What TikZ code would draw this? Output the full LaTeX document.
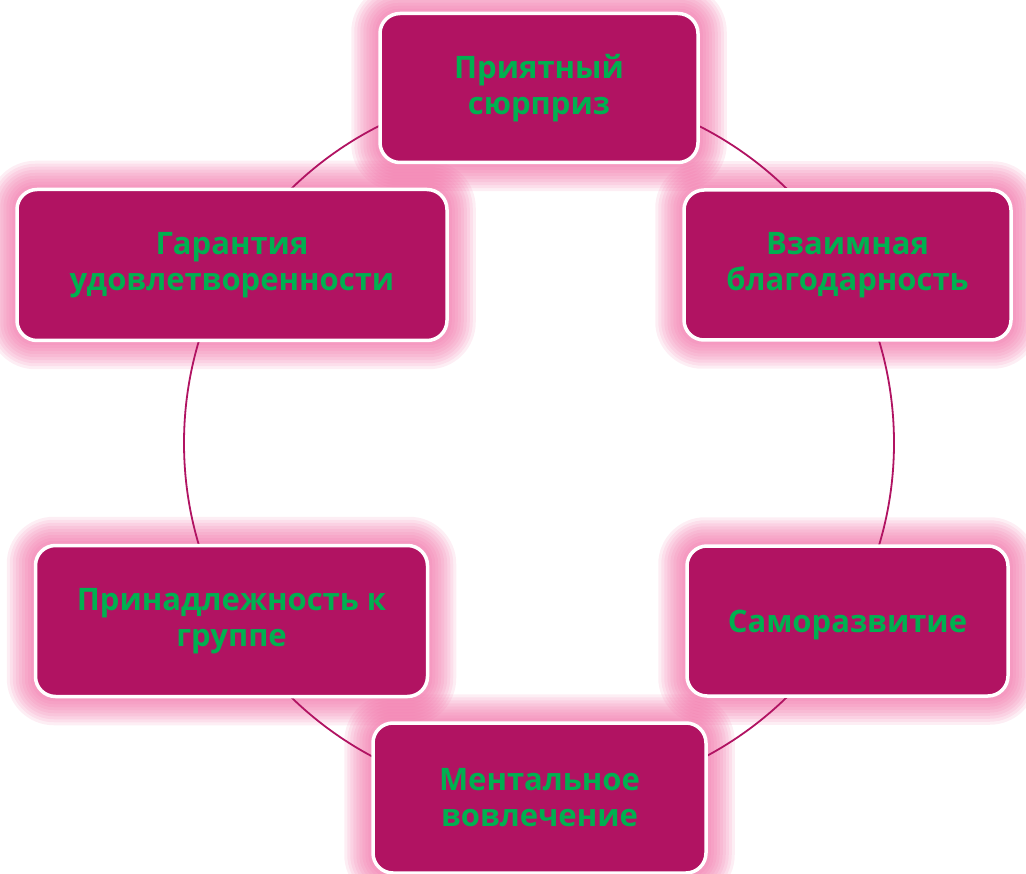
\documentclass[tikz,border=0pt]{standalone}
\usepackage{fontspec}
\setmainfont{Open Sans}
\definecolor{boxfill}{HTML}{B11362}
\definecolor{txtgreen}{HTML}{00B050}
\definecolor{glowpink}{HTML}{F0649F}
\pgfdeclarelayer{glowl}
\pgfdeclarelayer{ringl}
\pgfsetlayers{glowl,ringl,main}
\tikzset{
  card/.style={draw=white, line width=3.5pt, fill=boxfill, rounded corners=20pt,
    text=txtgreen, align=center, inner sep=0pt,
    font=\bfseries\fontsize{31}{36}\selectfont,
    execute at begin node={\rule{0pt}{30pt}}},
  ring/.style={draw=boxfill, line width=1.8pt, circle, inner sep=0pt}
}
\begin{document}
\begin{tikzpicture}[x=1pt,y=-1pt]
\useasboundingbox (0,0) rectangle (1026,874);
\node[card, minimum width=318pt, minimum height=149pt] (n1) at (539,88) {Приятный\\сюрприз};
\node[card, minimum width=327pt, minimum height=150pt] (n2) at (847.5,265) {Взаимная\\благодарность};
\node[card, minimum width=321pt, minimum height=150pt] (n3) at (847.5,621) {Саморазвитие};
\node[card, minimum width=333pt, minimum height=150pt] (n4) at (539.5,798) {Ментальное\\вовлечение};
\node[card, minimum width=392pt, minimum height=151pt] (n5) at (231.5,621) {Принадлежность к\\группе};
\node[card, minimum width=430pt, minimum height=151pt] (n6) at (232,265) {Гарантия\\удовлетворенности};
\begin{pgfonlayer}{ringl}
\node[ring, minimum size=710pt] (ringc) at (539,443) {};
\end{pgfonlayer}
\begin{pgfonlayer}{glowl}
\foreach \n in {n1,n2,n3,n4,n5,n6}{
  \foreach \d in {3,6,...,27}{
    \fill[glowpink, opacity=0.11, rounded corners=20pt+\d pt]
      ([shift={(-\d,-\d)}]\n.north west) rectangle ([shift={(\d,\d)}]\n.south east);
  }
}
\end{pgfonlayer}
\end{tikzpicture}
\end{document}
